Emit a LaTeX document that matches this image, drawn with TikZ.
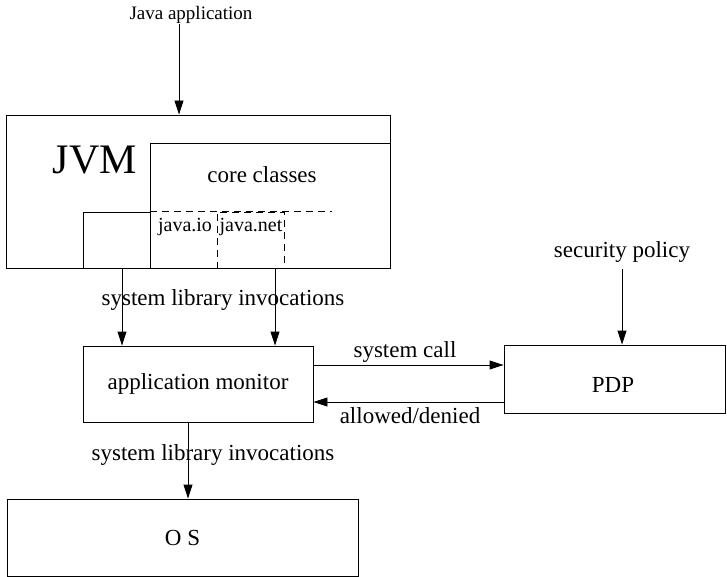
\documentclass[tikz,border=0pt]{standalone}
\usepackage{fontspec}
\setmainfont{Liberation Serif}
\usetikzlibrary{arrows.meta}

\begin{document}
\begin{tikzpicture}[x=1pt, y=-1pt, line width=0.9pt,
		box/.style = {draw, rectangle, inner sep=0pt},
		dbox/.style = {box, dash pattern=on 7pt off 5pt},
		txt/.style = {inner sep=0pt, font=\fontsize{23}{27}\selectfont},
		arr/.style = {-{Triangle[length=14pt, width=9pt]}}]
		\useasboundingbox (0,0) rectangle (727,577);
		\node[txt, font=\fontsize{19}{22}\selectfont] (japp) at (191,15) {Java application};
		\node[box, minimum width=384, minimum height=153] (jvm) at (198,191.5) {};
		\node[txt, font=\fontsize{42}{48}\selectfont] (jvmlabel) at (95,160) {JVM};
		\node[box, minimum width=240, minimum height=125] (core) at (270,205.5) {};
		\node[txt] (corelabel) at (262,175) {core classes};
		\node[box, minimum width=67, minimum height=56] (io) at (116.5,240) {};
		\node[dbox, minimum width=67, minimum height=56] (net) at (250.5,240) {};
		\draw[dash pattern=on 7pt off 5pt] (io.north east) -- (io.north east -| 332,0);
		\node[txt, font=\fontsize{20}{24}\selectfont] (iolabel) at (185,227) {java.io};
		\node[txt, font=\fontsize{20}{24}\selectfont] (netlabel) at (251,227) {java.net};
		\node[txt] (sli1) at (223,300) {system library invocations};
		\node[box, minimum width=230, minimum height=76, txt] (mon) at (198,384) {application monitor};
		\node[box, minimum width=221, minimum height=68] (pdp) at (614.5,379) {};
		\node[txt] (pdplabel) at (613,385) {PDP};
		\node[txt] (secpol) at (622,252) {security policy};
		\node[txt] (syscall) at (405,352) {system call};
		\node[txt] (allow) at (410,416) {allowed/denied};
		\node[txt] (sli2) at (213,455) {system library invocations};
		\node[box, minimum width=351, minimum height=77, txt] (os) at (182.5,537.5) {O S};
		\draw[arr] (japp.south -| 179,0) -- (jvm.north -| 179,0);
		\draw[arr] (io.south -| 122,0) -- (mon.north -| 122,0);
		\draw[arr] (net.south -| 275,0) -- (mon.north -| 275,0);
		\draw[arr] (mon.east |- 0,365) -- (pdp.west |- 0,365);
		\draw[arr] (pdp.west |- 0,402) -- (mon.east |- 0,402);
		\draw[arr] ([yshift=-6pt]secpol.south) -- (secpol.south |- pdp.north);
		\draw[arr] (mon.south -| 188,0) -- (os.north -| 188,0);
\end{tikzpicture}
\end{document}
